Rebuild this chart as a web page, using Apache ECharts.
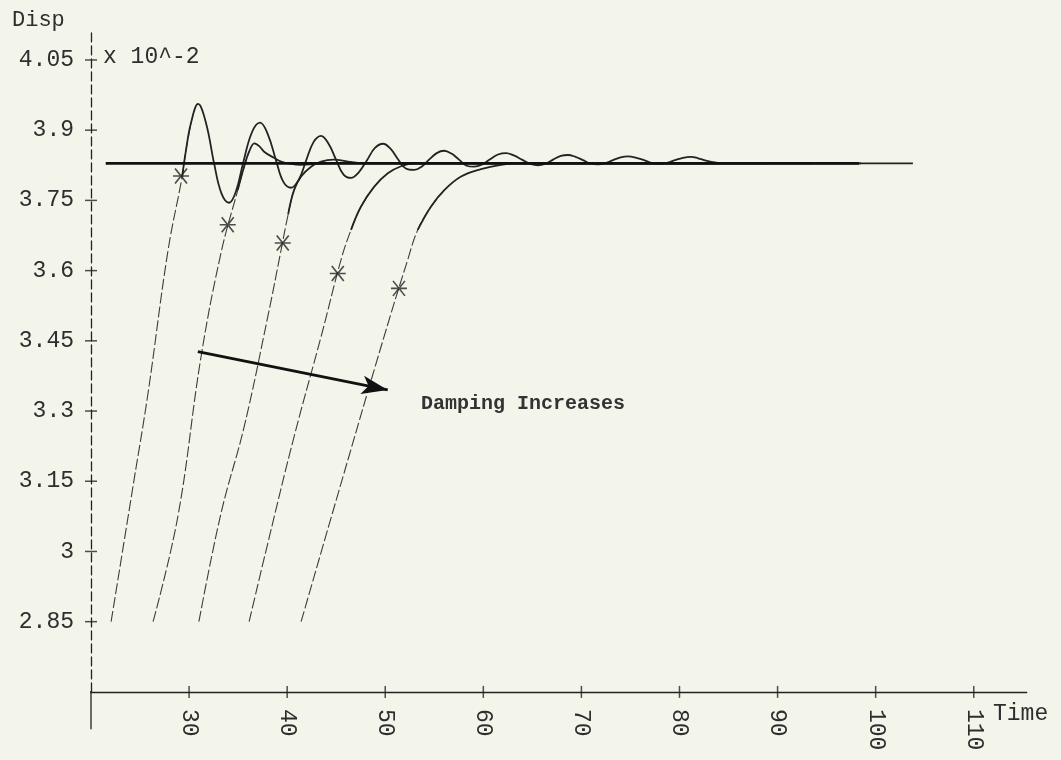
<!DOCTYPE html>
<html><head><meta charset="utf-8">
<script src="https://cdn.jsdelivr.net/npm/echarts@6/dist/echarts.min.js"></script>
<style>html,body{margin:0;padding:0;background:#f3f4ea;}#c{width:1061px;height:760px;}</style>
</head><body><div id="c"></div>
<script>
// ---- tick values / labels ----
const xTicks = [30, 40, 50, 60, 70, 80, 90, 100, 110];
const yTicks = [2.85, 3, 3.15, 3.3, 3.45, 3.6, 3.75, 3.9, 4.05];
const yTickLabels = ['2.85', '3', '3.15', '3.3', '3.45', '3.6', '3.75', '3.9', '4.05'];

// ---- axis crossing geometry (data units) ----
const xAxisExt = [[14.8, 2.70], [20, 2.70]];
const yAxisExt = [[20, 2.62], [20, 2.70]];

// ---- steady-state line ----
const steadyLine = [[21.5, 3.829], [98.3, 3.829]];

// ---- curve 1 (least damped) ----
const c1Rise = [[22.05, 2.85], [24.39, 3.153], [25.82, 3.339], [27.86, 3.644], [29.29, 3.800], [29.69, 3.858]];
const c1 = [[29.69, 3.858], [30.20, 3.916], [30.92, 3.956], [31.73, 3.915], [32.55, 3.829], [33.30, 3.765], [34.08, 3.745],
  [34.79, 3.770], [35.50, 3.829], [36.40, 3.895], [37.24, 3.916], [38.05, 3.890], [38.87, 3.835], [39.60, 3.790], [40.40, 3.777],
  [41.20, 3.795], [41.93, 3.835], [42.70, 3.875], [43.46, 3.888], [44.25, 3.870], [44.98, 3.837], [45.75, 3.805], [46.51, 3.798],
  [47.30, 3.810], [48.14, 3.836], [48.95, 3.862], [49.78, 3.871], [50.55, 3.860], [51.30, 3.838], [52.10, 3.818], [52.94, 3.815],
  [53.70, 3.822], [54.47, 3.837], [55.25, 3.851], [56.00, 3.856], [56.75, 3.850], [57.52, 3.837], [58.30, 3.824], [59.05, 3.822],
  [59.90, 3.827], [60.68, 3.838], [61.50, 3.848], [62.31, 3.851], [63.10, 3.846], [63.94, 3.837], [64.80, 3.828], [65.58, 3.825],
  [66.40, 3.829], [67.11, 3.837], [67.90, 3.845], [68.63, 3.847], [69.40, 3.843], [70.16, 3.836], [70.90, 3.829], [71.69, 3.827],
  [72.50, 3.830], [73.22, 3.836], [74.00, 3.842], [74.75, 3.844], [75.60, 3.841], [76.38, 3.836], [77.15, 3.830], [77.91, 3.828],
  [78.70, 3.830], [79.54, 3.836], [80.35, 3.841], [81.17, 3.843], [81.90, 3.840], [82.70, 3.835], [83.92, 3.830]];

// ---- curve 2 ----
const c2Rise = [[26.33, 2.85], [28.85, 3.074], [31.22, 3.416], [33.26, 3.638], [34.96, 3.772], [35.61, 3.822]];
const c2 = [[35.61, 3.822], [36.12, 3.854], [36.66, 3.872], [37.15, 3.866], [37.65, 3.854], [38.66, 3.841], [39.38, 3.833],
  [40.40, 3.828], [41.42, 3.826], [42.95, 3.828], [45.00, 3.829], [88.70, 3.829]];

// ---- curve 3 ----
const c3Rise = [[31.00, 2.85], [33.26, 3.082], [35.61, 3.266], [38.03, 3.502], [39.38, 3.644], [40.10, 3.720], [40.70, 3.772]];
const c3 = [[40.70, 3.772], [41.42, 3.801], [42.44, 3.822], [43.46, 3.833], [44.78, 3.837], [46.20, 3.833], [48.00, 3.829], [93.40, 3.829]];

// ---- curve 4 ----
const c4Rise = [[36.12, 2.85], [38.03, 3.018], [40.70, 3.245], [43.46, 3.459], [45.49, 3.623], [46.51, 3.687], [47.53, 3.737]];
const c4 = [[47.53, 3.737], [48.86, 3.779], [50.26, 3.808], [51.61, 3.823], [52.94, 3.829], [98.50, 3.829]];

// ---- curve 5 (most damped) ----
const c5Rise = [[41.42, 2.85], [45.60, 3.153], [49.88, 3.459], [52.29, 3.623], [53.31, 3.687], [54.67, 3.737]];
const c5 = [[54.67, 3.737], [56.02, 3.772], [57.73, 3.801], [59.77, 3.817], [61.80, 3.826], [63.51, 3.829], [103.80, 3.829]];

// ---- asterisk markers ----
const stars = [[29.18, 3.802], [33.94, 3.698], [39.55, 3.659], [45.16, 3.594], [51.40, 3.562]];

// ---- annotation arrow ----
const arrowFrom = [30.89, 3.427];
const arrowTo = [50.25, 3.345];

const INK = '#232323';
const FONT = 'Liberation Mono';

// solid part: starts one point early so its smoothing matches the dashed part at the joint
function solid(rise, settle) {
  return { type: 'line', data: [rise[rise.length - 2]].concat(settle), smooth: 0.4, showSymbol: false, symbol: 'none', silent: true,
    lineStyle: { color: INK, width: 1.8 }, z: 4 };
}
function dashed(rise, settle) {
  return { type: 'line', data: rise.concat([settle[1]]), smooth: 0.4, showSymbol: false, symbol: 'none', silent: true,
    lineStyle: { color: '#3c3c3c', width: 1.1, type: [11, 3] }, z: 3 };
}

const chart = echarts.init(document.getElementById('c'), null, { renderer: 'canvas' });
chart.setOption({
  animation: false,
  backgroundColor: '#f3f4ea',
  grid: { left: 91, right: 34.3, top: 30, bottom: 68.1, containLabel: false },
  xAxis: {
    type: 'value', min: 20, max: 115.4,
    splitLine: { show: false },
    axisTick: { show: false },
    axisLine: { show: true, lineStyle: { color: INK, width: 1.4 } },
    axisLabel: { customValues: xTicks, rotate: -90, margin: 17, fontFamily: FONT, fontSize: 23, color: '#2e2e2e' }
  },
  yAxis: {
    type: 'value', min: 2.70, max: 4.114,
    splitLine: { show: false },
    axisTick: { show: false },
    axisLine: { show: true, lineStyle: { color: INK, width: 1.3, type: [9, 4] } },
    axisLabel: {
      customValues: yTicks, margin: 17, fontFamily: FONT, fontSize: 23, color: '#2e2e2e',
      formatter: function (v) {
        const i = yTicks.findIndex(t => Math.abs(t - v) < 1e-9);
        return i >= 0 ? yTickLabels[i] : '';
      }
    }
  },
  graphic: [
    { type: 'text', left: 12, top: 9, style: { text: 'Disp', font: '22px "Liberation Mono"', fill: '#2e2e2e' } },
    { type: 'text', left: 103, top: 45, style: { text: 'x 10^-2', font: '23px "Liberation Mono"', fill: '#2e2e2e' } },
    { type: 'text', left: 993, top: 702, style: { text: 'Time', font: '23px "Liberation Mono"', fill: '#2e2e2e' } },
    { type: 'text', left: 421, top: 394, style: { text: 'Damping Increases', font: 'bold 20px "Liberation Mono"', fill: '#333' } }
  ],
  series: [
    { type: 'line', data: xAxisExt, clip: false, symbol: 'none', silent: true, lineStyle: { color: INK, width: 1.4 } },
    { type: 'line', data: yAxisExt, clip: false, symbol: 'none', silent: true, lineStyle: { color: INK, width: 1.3 } },
    { type: 'scatter', data: xTicks.map(v => [v, 2.70]), clip: false, silent: true, symbol: 'rect', symbolSize: [1.5, 12],
      itemStyle: { color: INK } },
    { type: 'scatter', data: yTicks.map(v => [20, v]), clip: false, silent: true, symbol: 'rect', symbolSize: [12, 1.5],
      itemStyle: { color: INK } },
    {
      type: 'line', data: steadyLine, symbol: 'none', silent: true, lineStyle: { color: '#111', width: 2.8 }, z: 5,
      markLine: {
        silent: true, symbol: ['none', 'arrow'], symbolSize: [14, 26], label: { show: false },
        lineStyle: { color: '#111', width: 2.8, type: 'solid' },
        data: [[{ coord: arrowFrom }, { coord: arrowTo }]]
      }
    },
    dashed(c1Rise, c1), solid(c1Rise, c1),
    dashed(c2Rise, c2), solid(c2Rise, c2),
    dashed(c3Rise, c3), solid(c3Rise, c3),
    dashed(c4Rise, c4), solid(c4Rise, c4),
    dashed(c5Rise, c5), solid(c5Rise, c5),
    { type: 'scatter', data: stars, silent: true, z: 6,
      symbol: 'path://M0,7L16,7M2,0L14,14M14,0L2,14', symbolSize: [16, 15],
      itemStyle: { color: 'rgba(0,0,0,0)', borderColor: INK, borderWidth: 1.6 } }
  ]
});
</script>
</body></html>
